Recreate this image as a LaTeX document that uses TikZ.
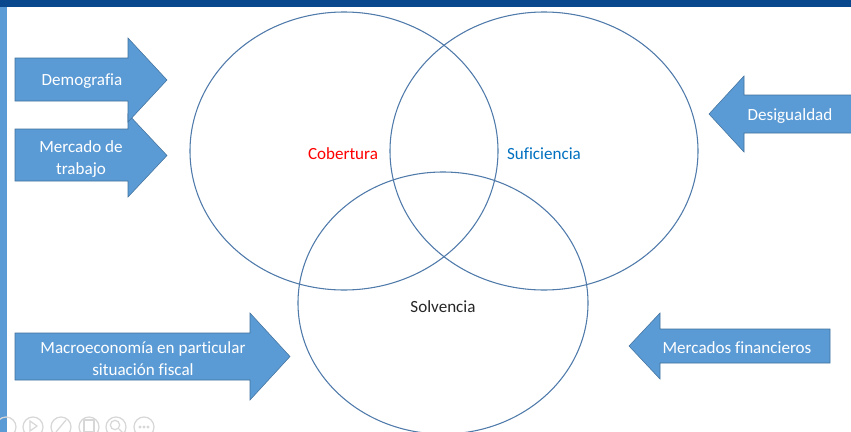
\documentclass[tikz,border=0pt]{standalone}
\usepackage{fontspec}
\setmainfont[Ligatures=NoCommon]{Carlito}
\usepackage{tikz}
\usetikzlibrary{positioning}
\definecolor{accentblue}{RGB}{91,155,213}
\definecolor{outlineblue}{RGB}{65,113,156}
\definecolor{ringblue}{RGB}{79,122,170}
\definecolor{barblue}{RGB}{10,72,142}
\definecolor{sufblue}{RGB}{0,112,192}
\definecolor{icongray}{RGB}{215,215,215}

\begin{document}
\begin{tikzpicture}[
		x=0.75pt, y=-0.75pt,
		ring/.style={draw=ringblue, line width=0.8pt},
		blockarrow/.style={fill=accentblue, draw=outlineblue, line width=0.4pt},
		arrowtext/.style={text=white, align=center, font=\fontsize{12.8}{16.8}\selectfont},
		setlabel/.style={font=\fontsize{12.8}{16.8}\selectfont},
		icon/.style={draw=icongray, line width=0.9pt}
		]
		
		\useasboundingbox (0,0) rectangle (851,432);
		\clip (0,0) rectangle (851,432);
		\fill[white] (0,0) rectangle (851,432);
		
		% Frame
		\fill[barblue] (0,0) rectangle (851,7);
		\fill[accentblue] (0,7) rectangle (7,432);
		
		% Rings
		\draw[ring] (344,151) ellipse [x radius=115.5pt, y radius=104.25pt];
		\draw[ring] (544,151) ellipse [x radius=115.5pt, y radius=104.25pt];
		\draw[ring] (443,303) ellipse [x radius=108.75pt, y radius=98.25pt];
		
		% Block arrows
		\draw[blockarrow] (15,129) -- (128,129) -- (128,114) -- (167,155.5) -- (128,197) -- (128,181) -- (15,181) -- cycle;
		\draw[blockarrow] (15,58) -- (128,58) -- (128,38) -- (167,80) -- (128,122) -- (128,101) -- (15,101) -- cycle;
		\draw[blockarrow] (15,333) -- (250,333) -- (250,313) -- (290,356.5) -- (250,400) -- (250,380) -- (15,380) -- cycle;
		\draw[blockarrow] (860,95) -- (744,95) -- (744,76) -- (709,114) -- (744,152) -- (744,133) -- (860,133) -- cycle;
		\draw[blockarrow] (830,329) -- (660,329) -- (660,313) -- (629,346) -- (660,379) -- (660,363) -- (830,363) -- cycle;
		
		% Nodes
		\node[arrowtext] (demografia) at (82,81) {Demografia};
		\node[arrowtext] (trabajo) at (81,159) {Mercado de\\ trabajo};
		\node[arrowtext] (macro) at (143,358.5) {Macroeconomía en particular\\ situación fiscal};
		\node[arrowtext] (desigualdad) at (790,116) {Desigualdad};
		\node[arrowtext] (financieros) at (737,348) {Mercados financieros};
		
		\node[setlabel, text=red] (cobertura) at (343,154) {Cobertura};
		\node[setlabel, text=sufblue] (suficiencia) at (544,154) {Suficiencia};
		\node[setlabel, text=black!85] (solvencia) at (443,307) {Solvencia};
		
		% Player controls
		\foreach \cx in {6,33,61,89,116,144}
			\draw[icon] (\cx,427) circle [radius=7.5pt];
		\draw[icon] (30,421) -- (37,426) -- (30,431) -- cycle;
		\draw[icon] (56,432) -- (66,420);
		\draw[icon] (84,420) rectangle (94,432);
		\draw[icon] (115,425) circle [radius=3.5pt];
		\draw[icon] (119,429) -- (123,433);
		\foreach \dx in {-4,0,4}
			\fill[icongray] (144+\dx,427) circle [radius=1.2pt];
	\end{tikzpicture}
\end{document}
